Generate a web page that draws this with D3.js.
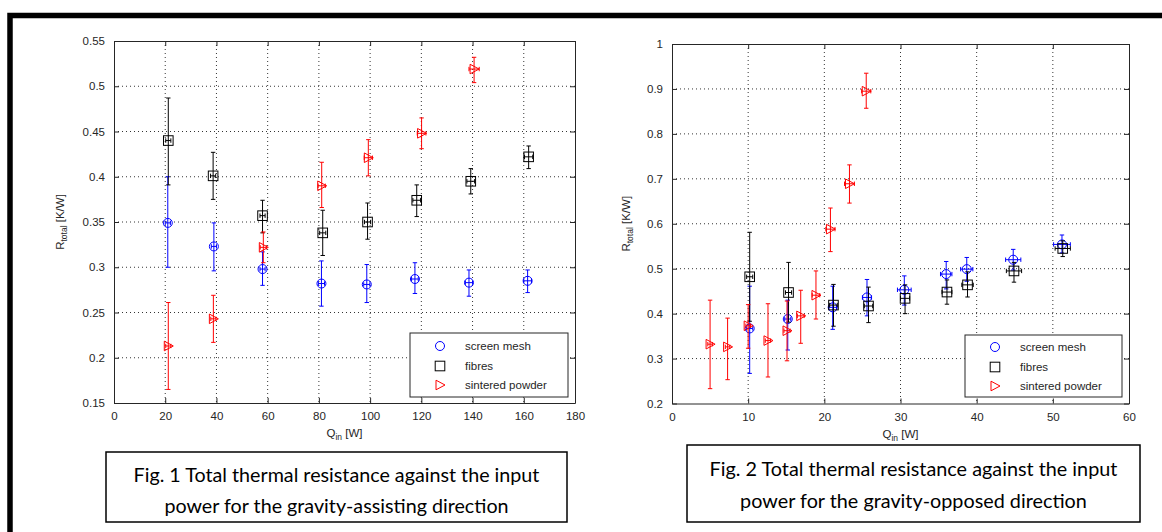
<!DOCTYPE html>
<html><head><meta charset="utf-8">
<script src="https://cdn.jsdelivr.net/npm/d3@7/dist/d3.min.js"></script>
<style>
body{margin:0;background:#fff;}
svg{display:block;font-family:"Liberation Sans",Arial,sans-serif;}
</style>
</head><body>
<svg id="c" width="1162" height="532"></svg>
<script>
// ---------------- DATA ----------------
const seriesNames = ["screen mesh", "fibres", "sintered powder"];

// Fig. 1 (gravity-assisting)
const f1_xTicks = [0, 20, 40, 60, 80, 100, 120, 140, 160, 180];
const f1_xTickLabels = ["0", "20", "40", "60", "80", "100", "120", "140", "160", "180"];
const f1_yTicks = [0.15, 0.2, 0.25, 0.3, 0.35, 0.4, 0.45, 0.5, 0.55];
const f1_yTickLabels = ["0.15", "0.2", "0.25", "0.3", "0.35", "0.4", "0.45", "0.5", "0.55"];

const f1_mesh_q    = [21, 39, 58, 81, 98.7, 117.5, 138.6, 161.5];
const f1_mesh_qerr = [1, 1, 1, 1.2, 1.2, 1.3, 1.4, 1.5];
const f1_mesh_r    = [0.349, 0.323, 0.298, 0.282, 0.281, 0.287, 0.283, 0.285];
const f1_mesh_lo   = [0.300, 0.296, 0.280, 0.257, 0.261, 0.271, 0.268, 0.272];
const f1_mesh_hi   = [0.400, 0.349, 0.317, 0.307, 0.303, 0.305, 0.297, 0.297];

const f1_fib_q     = [21.2, 38.7, 58, 81.5, 99, 118.2, 139.3, 161.9];
const f1_fib_qerr  = [1, 1, 1, 1.2, 1.2, 1.5, 1.5, 1.6];
const f1_fib_r     = [0.440, 0.401, 0.357, 0.338, 0.350, 0.374, 0.395, 0.422];
const f1_fib_lo    = [0.391, 0.375, 0.338, 0.313, 0.331, 0.356, 0.381, 0.409];
const f1_fib_hi    = [0.487, 0.427, 0.374, 0.363, 0.371, 0.391, 0.409, 0.434];

const f1_sp_q      = [21.2, 38.8, 58.3, 81.1, 99.3, 120.1, 140.6];
const f1_sp_qerr   = [1, 1, 1.2, 1.4, 1.6, 1.7, 2];
const f1_sp_r      = [0.213, 0.243, 0.322, 0.390, 0.421, 0.448, 0.519];
const f1_sp_lo     = [0.165, 0.217, 0.305, 0.366, 0.401, 0.431, 0.504];
const f1_sp_hi     = [0.261, 0.269, 0.339, 0.416, 0.441, 0.465, 0.532];

// Fig. 2 (gravity-opposed)
const f2_xTicks = [0, 10, 20, 30, 40, 50, 60];
const f2_xTickLabels = ["0", "10", "20", "30", "40", "50", "60"];
const f2_yTicks = [0.2, 0.3, 0.4, 0.5, 0.6, 0.7, 0.8, 0.9, 1];
const f2_yTickLabels = ["0.2", "0.3", "0.4", "0.5", "0.6", "0.7", "0.8", "0.9", "1"];

const f2_mesh_q    = [10.2, 15.2, 21.1, 25.6, 30.5, 36.0, 38.7, 44.8, 51.2];
const f2_mesh_qerr = [0.4, 0.4, 0.5, 0.6, 0.9, 0.75, 0.8, 1.0, 1.1];
const f2_mesh_r    = [0.367, 0.388, 0.414, 0.436, 0.453, 0.488, 0.499, 0.520, 0.554];
const f2_mesh_lo   = [0.267, 0.319, 0.365, 0.395, 0.419, 0.455, 0.472, 0.497, 0.535];
const f2_mesh_hi   = [0.461, 0.430, 0.461, 0.476, 0.484, 0.516, 0.525, 0.543, 0.575];

const f2_fib_q     = [10.2, 15.3, 21.2, 25.8, 30.6, 36.1, 38.8, 44.9, 51.3];
const f2_fib_qerr  = [0.4, 0.4, 0.5, 0.55, 0.6, 0.65, 0.75, 1.0, 1.0];
const f2_fib_r     = [0.482, 0.447, 0.419, 0.417, 0.434, 0.448, 0.464, 0.495, 0.545];
const f2_fib_lo    = [0.383, 0.381, 0.372, 0.380, 0.400, 0.421, 0.437, 0.470, 0.527];
const f2_fib_hi    = [0.581, 0.514, 0.465, 0.459, 0.464, 0.475, 0.493, 0.514, 0.562];

const f2_sp_q      = [5.0, 7.3, 10.0, 12.6, 15.1, 16.9, 18.9, 20.8, 23.3, 25.5];
const f2_sp_qerr   = [0.3, 0.3, 0.3, 0.35, 0.4, 0.45, 0.5, 0.6, 0.65, 0.6];
const f2_sp_r      = [0.332, 0.326, 0.373, 0.340, 0.362, 0.395, 0.441, 0.588, 0.689, 0.895];
const f2_sp_lo     = [0.233, 0.253, 0.323, 0.259, 0.295, 0.334, 0.388, 0.538, 0.646, 0.857];
const f2_sp_hi     = [0.430, 0.390, 0.420, 0.422, 0.428, 0.452, 0.495, 0.635, 0.731, 0.935];

const captions1 = ["Fig. 1 Total thermal resistance against the input", "power for the gravity-assisting direction"];
const captions2 = ["Fig. 2 Total thermal resistance against the input", "power for the gravity-opposed direction"];

// ---------------- DRAWING ----------------
const svg = d3.select("#c");
const colors = ["#0000ff", "#000000", "#ff0000"];
const shapes = ["circle", "square", "triangle"];
const axisColor = "#262626";

// outer thick frame
svg.append("path")
  .attr("d", "M10,540 L10,15.5 L1170,15.5")
  .attr("fill", "none").attr("stroke", "#000").attr("stroke-width", 5.5);

function zip(q, qe, r, lo, hi) {
  return q.map((d, i) => ({q: d, qe: qe[i], r: r[i], lo: lo[i], hi: hi[i]}));
}

function marker(g, shape, cx, cy, color) {
  if (shape === "circle") {
    g.append("circle").attr("cx", cx).attr("cy", cy).attr("r", 4.5)
      .attr("fill", "none").attr("stroke", color).attr("stroke-width", 1);
  } else if (shape === "square") {
    g.append("rect").attr("x", cx - 4.8).attr("y", cy - 4.8).attr("width", 9.6).attr("height", 9.6)
      .attr("fill", "none").attr("stroke", color).attr("stroke-width", 1);
  } else {
    g.append("path").attr("d", `M${cx - 4},${cy - 4.8} L${cx - 4},${cy + 4.8} L${cx + 5},${cy} Z`)
      .attr("fill", "none").attr("stroke", color).attr("stroke-width", 1);
  }
}

function drawChart(cfg) {
  const x = d3.scaleLinear().domain(cfg.xDomain).range([cfg.left, cfg.right]);
  const y = d3.scaleLinear().domain(cfg.yDomain).range([cfg.bottom, cfg.top]);
  const g = svg.append("g");

  // grid (dotted)
  const grid = g.append("g").attr("stroke", "#000").attr("stroke-width", 0.8)
    .attr("stroke-dasharray", "1,3");
  cfg.xTicks.slice(1, -1).forEach(t => {
    grid.append("line").attr("x1", x(t)).attr("x2", x(t)).attr("y1", cfg.top).attr("y2", cfg.bottom);
  });
  cfg.yTicks.slice(1, -1).forEach(t => {
    grid.append("line").attr("y1", y(t)).attr("y2", y(t)).attr("x1", cfg.left).attr("x2", cfg.right);
  });

  // axes via d3.axis (inward ticks)
  const fmtX = (d, i) => cfg.xTickLabels[i];
  const fmtY = (d, i) => cfg.yTickLabels[i];
  const axB = g.append("g").attr("transform", `translate(0,${cfg.bottom})`)
    .call(d3.axisBottom(x).tickValues(cfg.xTicks).tickFormat(fmtX).tickSizeInner(-5).tickSizeOuter(0).tickPadding(9));
  const axT = g.append("g").attr("transform", `translate(0,${cfg.top})`)
    .call(d3.axisTop(x).tickValues(cfg.xTicks).tickFormat("").tickSizeInner(-5).tickSizeOuter(0));
  const axL = g.append("g").attr("transform", `translate(${cfg.left},0)`)
    .call(d3.axisLeft(y).tickValues(cfg.yTicks).tickFormat(fmtY).tickSizeInner(-5).tickSizeOuter(0).tickPadding(9));
  const axR = g.append("g").attr("transform", `translate(${cfg.right},0)`)
    .call(d3.axisRight(y).tickValues(cfg.yTicks).tickFormat("").tickSizeInner(-5).tickSizeOuter(0));
  [axB, axT, axL, axR].forEach(a => {
    a.selectAll("path.domain").attr("stroke", axisColor).attr("stroke-width", 1);
    a.selectAll(".tick line").attr("stroke", axisColor);
    a.selectAll(".tick text").attr("fill", axisColor).style("font-size", "11.5px")
      .style("font-family", '"Liberation Sans", Arial, sans-serif');
  });

  // axis labels
  g.append("text").attr("x", (cfg.left + cfg.right) / 2).attr("y", cfg.bottom + 34)
    .attr("text-anchor", "middle").attr("fill", axisColor).style("font-size", "11.5px")
    .call(t => { t.append("tspan").text("Q");
                 t.append("tspan").attr("dy", 3).style("font-size", "8.5px").text("in");
                 t.append("tspan").attr("dy", -3).text(" [W]"); });
  g.append("text").attr("transform", `translate(${cfg.ylabX},${(cfg.top + cfg.bottom) / 2}) rotate(-90)`)
    .attr("text-anchor", "middle").attr("fill", axisColor).style("font-size", "11.5px")
    .call(t => { t.append("tspan").text("R");
                 t.append("tspan").attr("dy", 3).style("font-size", "8.5px").text("total");
                 t.append("tspan").attr("dy", -3).text(" [K/W]"); });

  // series
  cfg.series.forEach((s, si) => {
    const sg = g.append("g");
    const col = colors[si];
    s.forEach(d => {
      const cx = x(d.q), cy = y(d.r);
      const yl = y(d.lo), yh = y(d.hi);
      const xl = x(d.q - d.qe), xh = x(d.q + d.qe);
      const cap = 2.2;
      const eb = sg.append("g").attr("stroke", col).attr("stroke-width", 1);
      eb.append("line").attr("x1", cx).attr("x2", cx).attr("y1", yl).attr("y2", yh);
      eb.append("line").attr("x1", cx - cap).attr("x2", cx + cap).attr("y1", yl).attr("y2", yl);
      eb.append("line").attr("x1", cx - cap).attr("x2", cx + cap).attr("y1", yh).attr("y2", yh);
      eb.append("line").attr("x1", xl).attr("x2", xh).attr("y1", cy).attr("y2", cy);
      eb.append("line").attr("x1", xl).attr("x2", xl).attr("y1", cy - cap).attr("y2", cy + cap);
      eb.append("line").attr("x1", xh).attr("x2", xh).attr("y1", cy - cap).attr("y2", cy + cap);
      marker(sg, shapes[si], cx, cy, col);
    });
  });

  // legend
  const L = cfg.legend;
  const lg = g.append("g");
  lg.append("rect").attr("x", L.x0).attr("y", L.y0).attr("width", L.x1 - L.x0).attr("height", L.y1 - L.y0)
    .attr("fill", "#fff").attr("stroke", axisColor).attr("stroke-width", 1);
  seriesNames.forEach((n, i) => {
    const ry = L.rows[i];
    marker(lg, shapes[i], L.mx, ry, colors[i]);
    lg.append("text").attr("x", L.tx).attr("y", ry + 4).attr("fill", axisColor)
      .style("font-size", "11.5px").text(n);
  });

  // caption box
  const C = cfg.caption;
  svg.append("rect").attr("x", C.x0).attr("y", C.y0).attr("width", C.x1 - C.x0).attr("height", C.y1 - C.y0)
    .attr("fill", "#fff").attr("stroke", "#000").attr("stroke-width", 1.5);
  const cx = (C.x0 + C.x1) / 2;
  let sx = 1;
  C.lines.forEach((ln, i) => {
    const t = svg.append("text").attr("x", cx).attr("y", C.base[i]).attr("text-anchor", "middle")
      .style("font-family", "Lato, 'Open Sans', sans-serif").style("font-size", "18.5px").attr("fill", "#000").text(ln);
    if (i === 0) sx = C.width / t.node().getComputedTextLength();
    t.attr("transform", `translate(${cx},0) scale(${sx},1) translate(${-cx},0)`);
  });
}

drawChart({
  left: 114, right: 575, top: 41, bottom: 403,
  xDomain: [0, 180], yDomain: [0.15, 0.55],
  xTicks: f1_xTicks, xTickLabels: f1_xTickLabels,
  yTicks: f1_yTicks, yTickLabels: f1_yTickLabels,
  ylabX: 64,
  series: [
    zip(f1_mesh_q, f1_mesh_qerr, f1_mesh_r, f1_mesh_lo, f1_mesh_hi),
    zip(f1_fib_q, f1_fib_qerr, f1_fib_r, f1_fib_lo, f1_fib_hi),
    zip(f1_sp_q, f1_sp_qerr, f1_sp_r, f1_sp_lo, f1_sp_hi)
  ],
  legend: {x0: 410, x1: 568, y0: 333, y1: 397, mx: 440, tx: 465, rows: [346, 366, 385]},
  caption: {x0: 106, x1: 567, y0: 452, y1: 522, base: [482, 513], width: 406, lines: captions1}
});

drawChart({
  left: 672, right: 1129, top: 44, bottom: 403.5,
  xDomain: [0, 60], yDomain: [0.2, 1],
  xTicks: f2_xTicks, xTickLabels: f2_xTickLabels,
  yTicks: f2_yTicks, yTickLabels: f2_yTickLabels,
  ylabX: 630,
  series: [
    zip(f2_mesh_q, f2_mesh_qerr, f2_mesh_r, f2_mesh_lo, f2_mesh_hi),
    zip(f2_fib_q, f2_fib_qerr, f2_fib_r, f2_fib_lo, f2_fib_hi),
    zip(f2_sp_q, f2_sp_qerr, f2_sp_r, f2_sp_lo, f2_sp_hi)
  ],
  legend: {x0: 965, x1: 1122, y0: 335, y1: 397, mx: 995, tx: 1020, rows: [347, 367, 386]},
  caption: {x0: 687, x1: 1140, y0: 445, y1: 522, base: [476, 508], width: 408, lines: captions2}
});
</script>
</body></html>
